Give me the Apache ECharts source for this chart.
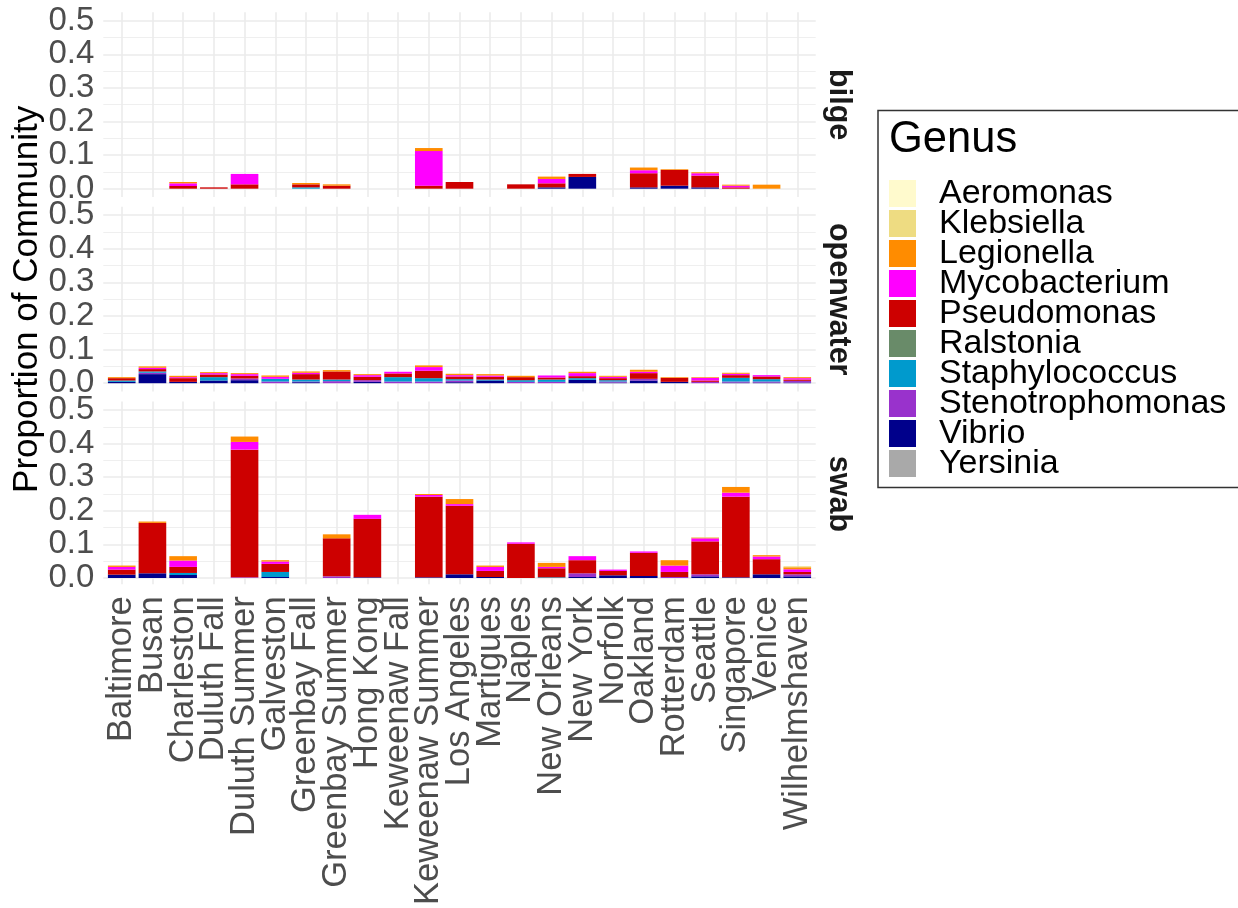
<!DOCTYPE html>
<html><head><meta charset="utf-8">
<script src="https://cdn.jsdelivr.net/npm/echarts@6/dist/echarts.min.js"></script>
<style>html,body{margin:0;padding:0;background:#fff}#c{width:1238px;height:908px}</style>
</head><body><div id="c"></div>
<script>
const categories = ["Baltimore","Busan","Charleston","Duluth Fall","Duluth Summer","Galveston","Greenbay Fall","Greenbay Summer","Hong Kong","Keweenaw Fall","Keweenaw Summer","Los Angeles","Martigues","Naples","New Orleans","New York","Norfolk","Oakland","Rotterdam","Seattle","Singapore","Venice","Wilhelmshaven"];
const facets = ["bilge","openwater","swab"];
const genera = ["Aeromonas","Klebsiella","Legionella","Mycobacterium","Pseudomonas","Ralstonia","Staphylococcus","Stenotrophomonas","Vibrio","Yersinia"];
const genusColors = ["#FFFACD","#EEDC82","#FF8C00","#FF00FF","#CD0000","#698B69","#009ACD","#9932CC","#00008B","#A9A9A9"];
const yTicks = [0,0.1,0.2,0.3,0.4,0.5];
const noneValues = [0,0,0,0,0,0,0,0,0,0,0,0,0,0,0,0,0,0,0,0,0,0,0];

// bilge
const bilgeVibrio = [0,0,0,0,0,0,0,0,0,0,0,0,0,0,0.004,0.035,0,0.004,0.009,0.004,0,0,0];
const bilgeStenotrophomonas = noneValues;
const bilgeStaphylococcus = [0,0,0,0,0,0,0.004,0,0,0,0,0,0,0,0,0,0,0,0,0,0,0,0];
const bilgePseudomonas = [0,0,0.008,0.004,0.013,0,0.009,0.009,0,0,0.009,0.02,0,0.013,0.012,0.009,0,0.042,0.047,0.035,0.004,0,0];
const bilgeMycobacterium = [0,0,0.008,0,0.031,0,0,0,0,0,0.103,0,0,0,0.013,0,0,0.009,0,0.007,0.005,0,0];
const bilgeLegionella = [0,0,0.004,0,0,0,0.004,0.004,0,0,0.009,0,0,0,0.007,0,0,0.008,0.002,0.003,0.003,0.012,0];
const bilgeKlebsiella = noneValues;

// openwater
const openVibrio = [0.004,0.027,0.004,0.008,0.009,0,0.003,0,0.004,0,0,0.003,0.008,0,0,0.01,0.002,0.008,0.004,0,0.002,0.002,0.002];
const openStenotrophomonas = [0,0.004,0,0,0.005,0.005,0.002,0.006,0.005,0.005,0.005,0.005,0,0.004,0.004,0,0.003,0.005,0,0.004,0.003,0.003,0.005];
const openStaphylococcus = [0.004,0.004,0,0.01,0,0.008,0.006,0.005,0,0.013,0.01,0.004,0.003,0.005,0.007,0.005,0.004,0,0,0,0.011,0.007,0];
const openPseudomonas = [0.007,0.007,0.011,0.008,0.008,0,0.016,0.024,0.01,0.011,0.022,0.008,0.008,0.009,0.006,0.006,0.006,0.017,0.012,0.004,0.008,0.008,0.004];
const openMycobacterium = [0,0.004,0.003,0.004,0.005,0.006,0.004,0,0.005,0.005,0.011,0.004,0.004,0,0.006,0.009,0.004,0.004,0,0.008,0.004,0.004,0.004];
const openLegionella = [0.003,0.004,0.004,0.003,0.003,0.004,0.004,0.004,0.003,0,0.005,0.004,0.004,0.004,0,0.004,0.003,0.006,0.002,0.002,0.003,0,0.003];
const openKlebsiella = noneValues;

// swab
const swabVibrio = [0.01,0.014,0.009,0,0,0.003,0,0,0.002,0,0.002,0.011,0.003,0,0,0.003,0.008,0.006,0,0.005,0.002,0.011,0.005];
const swabStenotrophomonas = [0,0,0,0,0.002,0,0,0.005,0,0,0,0,0,0,0,0.011,0,0,0.003,0.006,0,0,0.006];
const swabStaphylococcus = [0,0,0.006,0,0,0.015,0,0,0,0,0,0,0,0,0.002,0,0,0,0,0,0,0,0];
const swabPseudomonas = [0.015,0.15,0.018,0,0.38,0.024,0,0.113,0.174,0,0.24,0.204,0.018,0.102,0.027,0.039,0.013,0.069,0.015,0.098,0.24,0.045,0.007];
const swabMycobacterium = [0.008,0,0.019,0,0.023,0.007,0,0,0.012,0,0.005,0.005,0.012,0.004,0.004,0.012,0.004,0.004,0.019,0.009,0.012,0.008,0.008];
const swabLegionella = [0.004,0.004,0.013,0,0.016,0.004,0,0.012,0,0,0.003,0.015,0.004,0,0.012,0,0,0,0.016,0.002,0.017,0.004,0.006];
const swabKlebsiella = [0,0,0,0,0,0,0,0,0,0,0,0,0,0,0,0,0,0,0,0.002,0,0,0.003];

const facetData = [
  {Aeromonas:noneValues,Klebsiella:bilgeKlebsiella,Legionella:bilgeLegionella,Mycobacterium:bilgeMycobacterium,Pseudomonas:bilgePseudomonas,Ralstonia:noneValues,Staphylococcus:bilgeStaphylococcus,Stenotrophomonas:bilgeStenotrophomonas,Vibrio:bilgeVibrio,Yersinia:noneValues},
  {Aeromonas:noneValues,Klebsiella:openKlebsiella,Legionella:openLegionella,Mycobacterium:openMycobacterium,Pseudomonas:openPseudomonas,Ralstonia:noneValues,Staphylococcus:openStaphylococcus,Stenotrophomonas:openStenotrophomonas,Vibrio:openVibrio,Yersinia:noneValues},
  {Aeromonas:noneValues,Klebsiella:swabKlebsiella,Legionella:swabLegionella,Mycobacterium:swabMycobacterium,Pseudomonas:swabPseudomonas,Ralstonia:noneValues,Staphylococcus:swabStaphylococcus,Stenotrophomonas:swabStenotrophomonas,Vibrio:swabVibrio,Yersinia:noneValues}
];

// layout
const FONT = "'Liberation Sans', Arial, sans-serif";
const panelLeft = 103.3, panelRight = 815.7;
const unitX = (panelRight - panelLeft) / 23.2;
const panelTops = [12.3, 206.8, 401.6];
const panelH = 184.8;
const pxPerY = panelH / 0.55;
const gridCol = '#EBEBEB';
const legendFont = 34;

const grids = [], xAxes = [], yAxes = [], series = [];
facets.forEach((f, fi) => {
  const top = panelTops[fi];
  const yTop = top + 0.025 * pxPerY, yH = 0.5 * pxPerY;
  const gH = grids.length;
  grids.push({left: panelLeft, top: yTop, width: panelRight - panelLeft, height: yH});
  const gV = grids.length;
  grids.push({left: panelLeft + 0.6 * unitX, top: top, width: 22 * unitX, height: panelH});
  const gM = grids.length;
  grids.push({left: panelLeft + 0.1 * unitX, top: yTop, width: 23 * unitX, height: yH});

  // horizontal gridlines + y labels
  xAxes.push({gridIndex: gH, type: 'value', min: 0, max: 1, show: false});
  yAxes.push({gridIndex: gH, type: 'value', min: 0, max: 0.5, interval: 0.1,
    axisLine: {show: false}, axisTick: {show: false},
    axisLabel: {margin: 9, color: '#4D4D4D', fontSize: 33, fontFamily: FONT, formatter: v => v.toFixed(1)},
    splitLine: {show: true, lineStyle: {color: gridCol, width: 1.6}},
    minorTick: {show: false, splitNumber: 2},
    minorSplitLine: {show: true, lineStyle: {color: gridCol, width: 0.8}}
  });
  // vertical gridlines + x labels
  xAxes.push({gridIndex: gV, type: 'category', data: categories, boundaryGap: false, position: 'bottom',
    axisLine: {show: false}, axisTick: {show: false},
    axisLabel: {show: fi === 2, interval: 0, rotate: 90, margin: 12, color: '#4D4D4D', fontSize: 34.5, fontFamily: FONT},
    splitLine: {show: true, interval: 0, lineStyle: {color: gridCol, width: 1.6}}
  });
  yAxes.push({gridIndex: gV, type: 'value', min: 0, max: 1, show: false, splitLine: {show: false}});
  // bars
  xAxes.push({gridIndex: gM, type: 'category', data: categories, show: false});
  yAxes.push({gridIndex: gM, type: 'value', min: 0, max: 0.5, show: false, splitLine: {show: false}});

  genera.slice().reverse().forEach(g => {
    const gi = genera.indexOf(g);
    series.push({
      name: g, type: 'bar', xAxisIndex: gM, yAxisIndex: gM, stack: 'facet' + fi,
      barWidth: 0.9 * unitX, itemStyle: {color: genusColors[gi]},
      emphasis: {disabled: true},
      data: facetData[fi][g]
    });
  });
});

const graphics = [
  {type: 'text', x: 27, y: (panelTops[0] + panelTops[2] + panelH) / 2, rotation: Math.PI / 2,
   style: {text: 'Proportion of Community', fill: '#000', font: '35px ' + FONT, textAlign: 'center', textVerticalAlign: 'middle'}},
  {type: 'rect', shape: {x: 878, y: 110.5, width: 400, height: 377}, style: {fill: 'none', stroke: '#333', lineWidth: 1.5}},
  {type: 'text', x: 889, y: 140, style: {text: 'Genus', fill: '#000', font: '43.5px ' + FONT, textAlign: 'left', textVerticalAlign: 'middle'}}
];
facets.forEach((f, fi) => {
  graphics.push({type: 'text', x: 838, y: panelTops[fi] + panelH / 2, rotation: -Math.PI / 2,
    style: {text: f, fill: '#1A1A1A', font: 'bold 30.5px ' + FONT, textAlign: 'center', textVerticalAlign: 'middle'}});
});

const chart = echarts.init(document.getElementById('c'), null, {renderer: 'canvas'});
chart.setOption({
  animation: false,
  backgroundColor: '#fff',
  grid: grids, xAxis: xAxes, yAxis: yAxes, series: series,
  legend: {data: genera, orient: 'vertical', left: 889, top: 193.5 - legendFont / 2, itemWidth: 27, itemHeight: 27, itemGap: 30 - legendFont,
    icon: 'rect', selectedMode: false, padding: 0,
    textStyle: {fontSize: legendFont, lineHeight: legendFont, color: '#000', fontFamily: FONT, padding: [0, 0, 0, 18]}},
  graphic: graphics
});
</script></body></html>
